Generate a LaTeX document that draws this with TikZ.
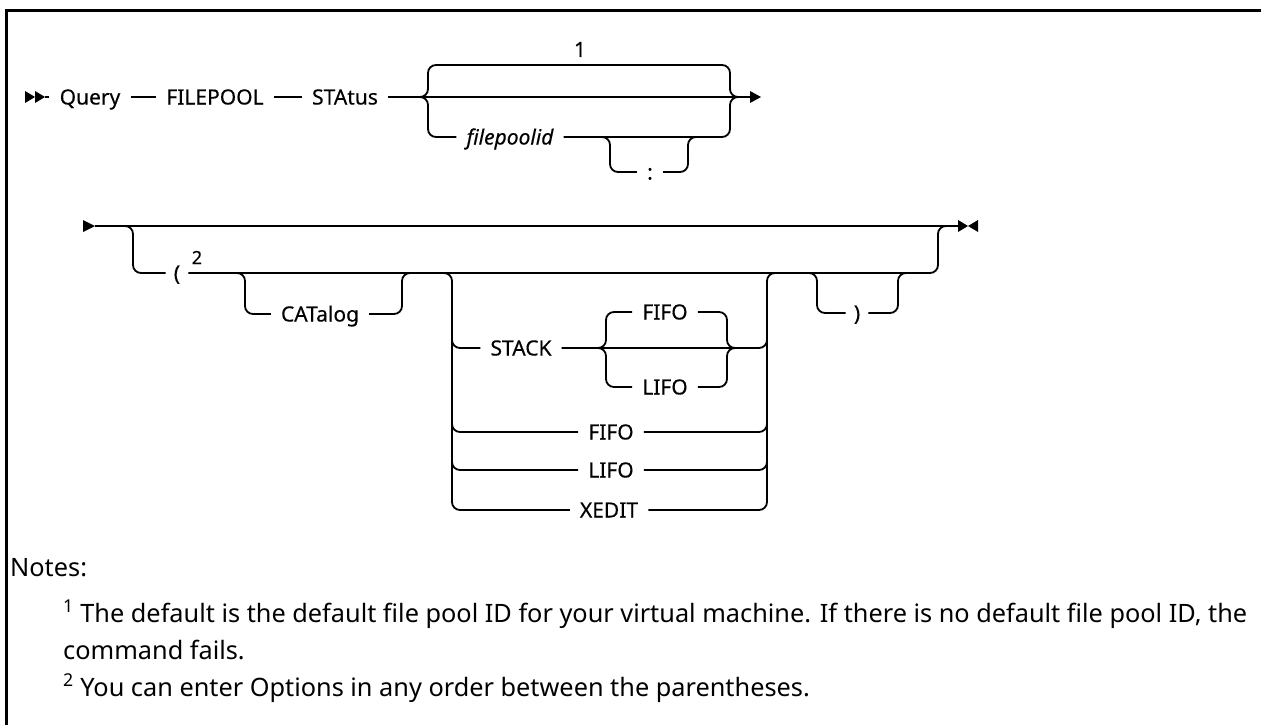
\documentclass[tikz,border=0pt]{standalone}
\usepackage{fontspec}
\setmainfont{Noto Sans}
\newfontfamily\dfam[FakeBold=0.35]{Noto Sans}
\newcommand\sdfont{\dfam\fontsize{21}{25}\selectfont}
\newcommand\snfont{\fontsize{25.3}{30}\selectfont}
\begin{document}
\begin{tikzpicture}[x=1pt,y=-1pt,
  rr/.style={line width=1.8pt, rounded corners=8pt},
  lbl/.style={inner xsep=10pt, inner ysep=0pt, text height=15pt, text depth=0pt, font=\sdfont},
  plbl/.style={lbl, inner xsep=8pt},
  tipfill/.style={fill=black},
  note/.style={anchor=base west, inner sep=0pt, font=\snfont}]
\useasboundingbox (0,0) rectangle (1261,725);
% frame
\draw[line width=2.8pt] (6.5,726) -- (6.5,10.5) -- (1262,10.5);

% ---------- line 1 ----------
\coordinate (s1) at (25,97);
\coordinate (s1e) at (45,97);
\fill[tipfill] (s1) ++(0,-6) -- ++(10,6) -- ++(-10,6) -- cycle;
\fill[tipfill] (s1) ++(10,-6) -- ++(10,6) -- ++(-10,6) -- cycle;
\node[lbl] (q) at (90,97) {Query};
\node[lbl] (fp) at (215,97) {FILEPOOL};
\node[lbl] (st) at (345,97) {STAtus};
\coordinate (j1) at (420,97);
\coordinate (j2) at (738,97);
\coordinate (e1) at (750,97);
\draw[rr] (s1e) -- (q);
\draw[rr] (q) -- (fp);
\draw[rr] (fp) -- (st);
\draw[rr] (st) -- (j1) -- (j2) -- (e1);
\fill[tipfill] (e1) ++(0,-6) -- ++(11,6) -- ++(-11,6) -- cycle;
% default branch (top)
\node[font=\sdfont, inner sep=0pt, anchor=base] (one) at (580,57) {1};
\draw[rr] (j1) -| (428,65) -| (730,97) -- (j2);
% filepoolid branch
\node[lbl, font=\sdfont\itshape] (fpid) at (510,137) {filepoolid};
\draw[rr] (j1) -| (428,137) -- (fpid.west);
\draw[rr] (fpid.east) -| (730,97) -- (j2);
\coordinate (cj1) at (601,137);
\coordinate (cj2) at (697,137);
\node[lbl] (colon) at (650,172) {:};
\draw[rr] (cj1) -| (610,172) -- (colon.west);
\draw[rr] (colon.east) -| (688,137) -- (cj2);

% ---------- line 2 ----------
\coordinate (s2) at (83,226);
\coordinate (s2e) at (95,226);
\fill[tipfill] (s2) ++(0,-6) -- ++(12,6) -- ++(-12,6) -- cycle;
\coordinate (b1) at (125,226);
\coordinate (b2) at (948,226);
\coordinate (e2) at (958,226);
\draw[rr] (s2e) -- (b1) -- (b2) -- (e2);
\fill[tipfill] (e2) ++(0,-6) -- ++(10,6) -- ++(-10,6) -- cycle;
\fill[tipfill] (e2) ++(20,-6) -- ++(-10,6) -- ++(10,6) -- cycle;
% ( branch
\node[plbl] (lp) at (177,273) {(};
\node[font=\dfam\fontsize{18}{20}\selectfont, inner sep=0pt, anchor=base] (sup2) at (197,264) {2};
\coordinate (c1) at (237,273);
\coordinate (c2) at (410,273);
\coordinate (g1) at (444,273);
\coordinate (g2) at (775,273);
\coordinate (r1) at (809,273);
\coordinate (r2) at (906,273);
\draw[rr] (b1) -| (133,273) -- (lp.west);
\draw[rr] (lp.east) -- (c1) -- (c2) -- (g1) -- (g2) -- (r1) -- (r2) -| (938,226) -- (b2);
% CATalog
\node[lbl] (cat) at (320,314) {CATalog};
\draw[rr] (c1) -| (245,314) -- (cat.west);
\draw[rr] (cat.east) -| (402,273) -- (c2);
% group: STACK / FIFO / LIFO / XEDIT
\node[lbl] (stack) at (521,348) {STACK};
\node[lbl] (fifoa) at (665,312) {FIFO};
\node[lbl] (lifoa) at (665,387) {LIFO};
\node[lbl] (fifob) at (611,432) {FIFO};
\node[lbl] (lifob) at (611,470) {LIFO};
\node[lbl] (xedit) at (609,510) {XEDIT};
\coordinate (k1) at (598,348);
\coordinate (k2) at (735,348);
\draw[rr] (g1) -| (452,510) -- (xedit.west);
\draw[rr] (452,300) |- (stack.west);
\draw[rr] (452,400) |- (fifob.west);
\draw[rr] (452,440) |- (lifob.west);
\draw[rr] (xedit.east) -| (767,273) -- (g2);
\draw[rr] (stack) -- (k1) -- (k2) -| (767,300);
\draw[rr] (fifob.east) -| (767,400);
\draw[rr] (lifob.east) -| (767,440);
\draw[rr] (k1) -| (606,312) -- (fifoa.west);
\draw[rr] (fifoa.east) -| (727,348) -- (k2);
\draw[rr] (k1) -| (606,387) -- (lifoa.west);
\draw[rr] (lifoa.east) -| (727,348) -- (k2);
% ) branch
\node[plbl] (rp) at (857,313) {)};
\draw[rr] (r1) -| (817,313) -- (rp.west);
\draw[rr] (rp.east) -| (898,273) -- (r2);

% ---------- notes ----------
\node[note] (notes) at (10,576) {Notes:};
\node[note] (n1) at (63,622) {\textsuperscript{1} The default is the default file pool ID for your virtual machine. If there is no default file pool ID, the};
\node[note] (n1b) at (63,659) {command fails.};
\node[note] (n2) at (63,696) {\textsuperscript{2} You can enter Options in any order between the parentheses.};
\end{tikzpicture}
\end{document}
